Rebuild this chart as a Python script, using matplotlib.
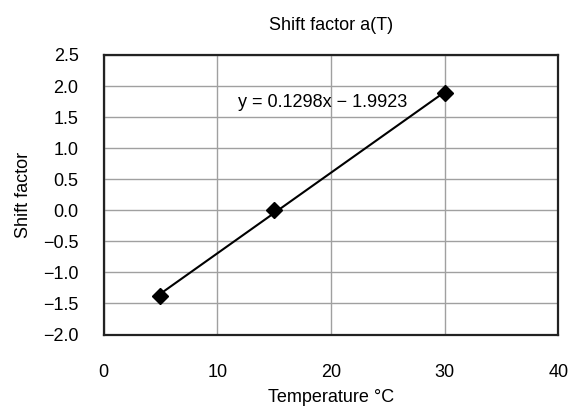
import matplotlib
matplotlib.use("Agg")
import matplotlib.pyplot as plt
import numpy as np

# data
temperature = [5, 15, 30]
shift_factor = [-1.38, 0.01, 1.88]
slope = 0.1298
intercept = -1.9923
equation = "y = 0.1298x \u2212 1.9923"

x_ticks = [0, 10, 20, 30, 40]
y_ticks = [-2.0, -1.5, -1.0, -0.5, 0.0, 0.5, 1.0, 1.5, 2.0, 2.5]

plt.rcParams['font.family'] = ['Liberation Sans', 'DejaVu Sans']
plt.rcParams['font.size'] = 13

fig = plt.figure(figsize=(5.69, 4.07), dpi=100)
ax = fig.add_axes([0.182, 0.178, 0.799, 0.687])

ax.set_xlim(0, 40)
ax.set_ylim(-2.0, 2.5)
ax.set_xticks(x_ticks)
ax.set_yticks(y_ticks)
ax.set_yticklabels([f"{v:.1f}".replace("-", "\u2212") for v in y_ticks])
ax.tick_params(length=0)
ax.tick_params(axis='x', pad=21)
ax.tick_params(axis='y', pad=18)
ax.grid(True, color='#a0a0a0', linewidth=1.0)
ax.set_axisbelow(True)
for s in ax.spines.values():
    s.set_linewidth(1.6)
    s.set_color('#222222')

# trend line over the data range
xs = np.array([min(temperature), max(temperature)])
ax.plot(xs, slope * xs + intercept, color='black', linewidth=1.5)
ax.plot(temperature, shift_factor, linestyle='none', marker='D',
        markersize=8, color='black')

ax.text(11.8, 1.74, equation, fontsize=13, va='center', ha='left')

ax.set_title("Shift factor a(T)", fontsize=13, pad=18)
ax.set_xlabel("Temperature \u00b0C", fontsize=13, labelpad=6)
ax.set_ylabel("Shift factor", fontsize=13, labelpad=8)

fig.savefig("out.png", dpi=100)
